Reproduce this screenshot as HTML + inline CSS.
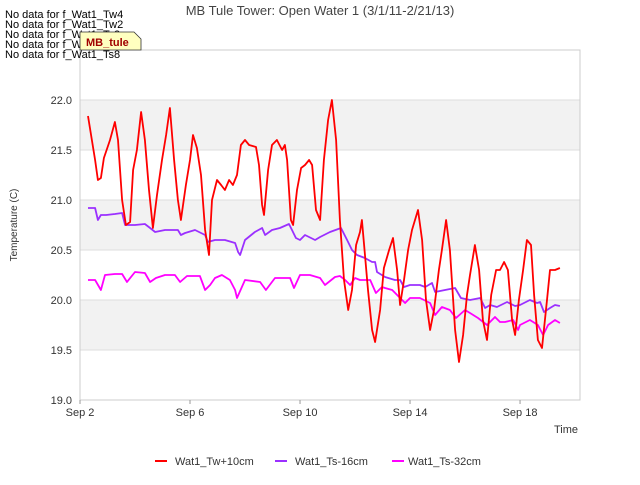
<!DOCTYPE html>
<html><head><meta charset="utf-8"><style>
body{margin:0;background:#fff;font-family:"Liberation Sans",sans-serif}
svg text{font-family:"Liberation Sans","DejaVu Sans",sans-serif}
</style></head><body>
<svg id="c" width="640" height="480" xmlns="http://www.w3.org/2000/svg">
<rect x="0" y="0" width="640" height="480" fill="#fff"/>
<g id="bands"></g><g id="grid"></g>
<rect x="80" y="50" width="500" height="350" fill="none" stroke="#ccc"/>
<g id="yt"></g><g id="xt"></g><g id="series"></g>
<text x="320" y="15" text-anchor="middle" font-size="13" fill="#444">MB Tule Tower: Open Water 1 (3/1/11-2/21/13)</text>
<text x="566" y="433" text-anchor="middle" font-size="11" fill="#333">Time</text>
<text transform="translate(17,225) rotate(-90)" text-anchor="middle" font-size="10" fill="#333">Temperature (C)</text>
<g font-size="11" fill="#000">
<text x="5" y="18">No data for f_Wat1_Tw4</text>
<text x="5" y="28">No data for f_Wat1_Tw2</text>
<text x="5" y="38">No data for f_Wat1_Ts2</text>
<text x="5" y="48">No data for f_Wat1_Ts4</text>
</g>
<g>
<path d="M80,32 H134 L141,39 V50 H80 Z" fill="#ffffc0" stroke="#333" stroke-width="0.8"/>
<text x="86" y="46" font-size="11" font-weight="bold" fill="#a00000">MB_tule</text>
</g>
<text x="5" y="58" font-size="11" fill="#000">No data for f_Wat1_Ts8</text>
<g id="legend" font-size="11" fill="#333">
<line x1="155" y1="461" x2="167" y2="461" stroke="#ff0000" stroke-width="2"/><text x="175" y="465">Wat1_Tw+10cm</text>
<line x1="275" y1="461" x2="287" y2="461" stroke="#9b30ff" stroke-width="2"/><text x="295" y="465">Wat1_Ts-16cm</text>
<line x1="392" y1="461" x2="404" y2="461" stroke="#ff00ff" stroke-width="2"/><text x="408" y="465">Wat1_Ts-32cm</text>
</g>
</svg>
<script>
const yTicks=[19.0,19.5,20.0,20.5,21.0,21.5,22.0];
const xTickDays=[0,4,8,12,16];
const xTickLabels=["Sep 2","Sep 6","Sep 10","Sep 14","Sep 18"];
const redDays=[0.29,0.55,0.65,0.76,0.87,1.09,1.27,1.38,1.53,1.67,1.82,1.93,2.07,2.22,2.36,2.51,2.65,2.80,2.98,3.13,3.27,3.42,3.56,3.67,3.85,4.00,4.11,4.25,4.40,4.55,4.69,4.80,4.98,5.13,5.27,5.42,5.56,5.71,5.85,6.00,6.15,6.40,6.51,6.62,6.69,6.84,6.98,7.16,7.35,7.45,7.53,7.67,7.75,7.89,8.04,8.18,8.33,8.44,8.58,8.73,8.87,9.02,9.16,9.31,9.45,9.60,9.75,9.89,10.04,10.18,10.25,10.33,10.47,10.62,10.73,10.91,11.05,11.24,11.38,11.53,11.64,11.78,11.93,12.07,12.29,12.44,12.58,12.73,12.87,13.05,13.16,13.31,13.45,13.64,13.78,13.93,14.07,14.18,14.36,14.51,14.65,14.80,14.95,15.13,15.27,15.42,15.56,15.71,15.82,15.96,16.11,16.25,16.40,16.51,16.65,16.80,16.98,17.09,17.27,17.45];
const redVals=[21.84,21.40,21.20,21.22,21.42,21.60,21.78,21.60,21.00,20.75,20.78,21.30,21.50,21.88,21.60,21.10,20.72,21.05,21.40,21.65,21.92,21.40,21.00,20.80,21.15,21.40,21.65,21.52,21.25,20.70,20.45,21.00,21.20,21.15,21.10,21.20,21.15,21.25,21.55,21.60,21.55,21.53,21.35,20.95,20.85,21.30,21.55,21.60,21.50,21.55,21.40,20.80,20.75,21.10,21.32,21.35,21.40,21.35,20.90,20.80,21.40,21.80,22.00,21.60,20.80,20.20,19.90,20.10,20.55,20.68,20.80,20.55,20.10,19.70,19.58,19.90,20.32,20.50,20.62,20.30,19.95,20.20,20.50,20.70,20.90,20.60,20.00,19.70,19.90,20.30,20.50,20.80,20.50,19.70,19.38,19.65,20.05,20.25,20.55,20.30,19.80,19.60,20.05,20.30,20.30,20.38,20.30,19.80,19.65,20.00,20.30,20.60,20.55,20.05,19.60,19.52,20.00,20.30,20.30,20.32];
const purDays=[0.29,0.55,0.65,0.76,0.95,1.27,1.53,1.64,2.00,2.36,2.55,2.73,3.09,3.45,3.56,3.67,3.82,4.18,4.55,4.65,4.91,5.27,5.64,5.75,5.82,6.00,6.36,6.62,6.73,6.98,7.27,7.60,7.71,7.85,8.00,8.18,8.55,8.73,9.09,9.49,9.71,9.89,10.07,10.36,10.62,10.73,10.80,11.09,11.45,11.64,11.78,12.00,12.36,12.55,12.80,12.91,13.27,13.64,13.85,14.18,14.55,14.73,14.91,15.16,15.53,15.82,16.00,16.36,16.62,16.73,16.87,17.09,17.27,17.45];
const purVals=[20.92,20.92,20.80,20.85,20.85,20.86,20.87,20.75,20.75,20.76,20.72,20.68,20.70,20.70,20.70,20.65,20.67,20.70,20.65,20.58,20.60,20.60,20.57,20.48,20.45,20.60,20.68,20.72,20.65,20.70,20.72,20.76,20.70,20.62,20.60,20.65,20.60,20.63,20.68,20.72,20.60,20.50,20.45,20.42,20.38,20.38,20.28,20.23,20.20,20.20,20.13,20.15,20.15,20.13,20.17,20.08,20.10,20.12,20.02,20.00,20.02,19.92,19.95,19.93,19.98,19.94,19.95,20.00,19.97,19.98,19.88,19.92,19.95,19.94];
const magDays=[0.29,0.55,0.76,0.91,1.27,1.53,1.71,2.00,2.36,2.55,2.76,3.09,3.45,3.64,3.89,4.36,4.55,4.73,4.91,5.16,5.45,5.64,5.71,6.00,6.55,6.76,7.09,7.64,7.78,8.00,8.36,8.73,8.91,9.27,9.45,9.64,9.82,10.00,10.18,10.55,10.76,10.98,11.09,11.35,11.64,11.82,12.00,12.36,12.73,12.91,13.16,13.45,13.67,14.00,14.18,14.47,14.80,15.09,15.27,15.45,15.75,15.93,16.00,16.36,16.65,16.84,17.02,17.27,17.45];
const magVals=[20.20,20.20,20.10,20.25,20.26,20.26,20.18,20.28,20.27,20.18,20.22,20.25,20.25,20.18,20.24,20.24,20.10,20.15,20.22,20.25,20.20,20.10,20.02,20.20,20.18,20.10,20.22,20.22,20.12,20.25,20.25,20.22,20.15,20.23,20.24,20.20,20.15,20.22,20.20,20.20,20.07,20.13,20.12,20.10,20.02,19.97,20.02,20.02,19.97,19.85,19.93,19.90,19.82,19.90,19.87,19.82,19.75,19.83,19.78,19.78,19.80,19.70,19.75,19.80,19.75,19.65,19.75,19.80,19.77];
const NS="http://www.w3.org/2000/svg";
const X0=80,X1=580,Y0=50,Y1=400,DMIN=0,DMAX=18.18,VMIN=19,VMAX=22.5;
function sx(d){return X0+(d-DMIN)/(DMAX-DMIN)*(X1-X0);}
function sy(v){return Y1-(v-VMIN)/(VMAX-VMIN)*(Y1-Y0);}
function mk(tag,attrs,parent){const e=document.createElementNS(NS,tag);for(const k in attrs)e.setAttribute(k,attrs[k]);parent.appendChild(e);return e;}
const bands=document.getElementById('bands'),grid=document.getElementById('grid'),yt=document.getElementById('yt'),xt=document.getElementById('xt'),ser=document.getElementById('series');
for(let v=19.5;v<22.5;v+=1){const r=mk('rect',{x:X0,y:sy(v+0.5),width:X1-X0,height:sy(v)-sy(v+0.5),fill:'#f2f2f2'},bands);

}
yTicks.forEach(v=>{const l=mk('line',{x1:X0,x2:X1,y1:sy(v),y2:sy(v),stroke:'#ddd'},grid);


const t=mk('text',{x:72,y:sy(v)+4,'text-anchor':'end','font-size':11,fill:'#333'},yt);t.textContent=v.toFixed(1);

});
xTickDays.forEach((d,i)=>{const l=mk('line',{x1:sx(d),x2:sx(d),y1:Y1,y2:Y1+4,stroke:'#999'},xt);


const t=mk('text',{x:sx(d),y:416,'text-anchor':'middle','font-size':11,fill:'#333'},xt);t.textContent=xTickLabels[i];

});
function line(days,vals,color,name){const p=mk('polyline',{points:days.map((d,i)=>sx(d).toFixed(1)+','+sy(vals[i]).toFixed(1)).join(' '),fill:'none',stroke:color,'stroke-width':1.8,'stroke-linejoin':'round'},ser);

}
line(magDays,magVals,'#ff00ff','series-ts-32cm');
line(purDays,purVals,'#9b30ff','series-ts-16cm');
line(redDays,redVals,'#ff0000','series-tw-10cm');
</script>
</body></html>
